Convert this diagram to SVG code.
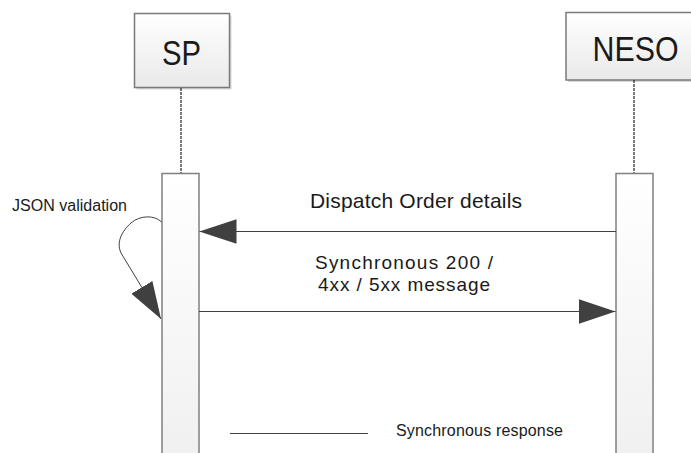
<svg xmlns="http://www.w3.org/2000/svg" width="691" height="453" viewBox="0 0 691 453">
  <defs>
    <linearGradient id="boxGrad" x1="0" y1="0" x2="0" y2="1">
      <stop offset="0" stop-color="#ffffff"/>
      <stop offset="1" stop-color="#e9e9e9"/>
    </linearGradient>
    <linearGradient id="actGrad" x1="0" y1="0" x2="0" y2="1">
      <stop offset="0" stop-color="#ffffff"/>
      <stop offset="1" stop-color="#f0f0f0"/>
    </linearGradient>
    <marker id="arrow" markerUnits="userSpaceOnUse" markerWidth="37" markerHeight="25" viewBox="0 0 36 24" refX="36" refY="12" orient="auto">
      <path d="M0,0 L36,12 L0,24 Z" fill="#404040"/>
    </marker>
  </defs>
  <style>
    .head { fill: url(#boxGrad); stroke: #7a7a7a; stroke-width: 1.5; }
    .shadow { fill: #d8d8d8; stroke: none; }
    .act { fill: url(#actGrad); stroke: #808080; stroke-width: 1.5; }
    .life { stroke: #222222; stroke-width: 1.2; stroke-dasharray: 3 1; fill: none; }
    .msg { stroke: #404040; stroke-width: 1; fill: none; marker-end: url(#arrow); }
    .t { font-family: "Liberation Sans", Arial, sans-serif; fill: #1a1a1a; }
    .big { font-size: 35px; text-anchor: middle; }
    .lbl { font-size: 21px; }
    .lbl2 { font-size: 19px; }
    .small { font-size: 16px; }
  </style>

  <rect width="691" height="453" fill="#ffffff"/>

  <g id="sp">
    <rect class="shadow" x="136.5" y="15.5" width="95" height="74"/>
    <rect class="head" x="134.5" y="13.5" width="95" height="74"/>
    <text class="t big" x="181.5" y="65" textLength="39" lengthAdjust="spacingAndGlyphs">SP</text>
    <line class="life" x1="181" y1="88" x2="181" y2="173"/>
    <rect class="act" x="162" y="173.5" width="37" height="290"/>
  </g>

  <g id="neso">
    <rect class="shadow" x="568" y="14.5" width="130" height="67.5"/>
    <rect class="head" x="566" y="12.5" width="130" height="67.5"/>
    <text class="t big" x="635.5" y="61" textLength="86" lengthAdjust="spacingAndGlyphs">NESO</text>
    <line class="life" x1="634" y1="80" x2="634" y2="173"/>
    <rect class="act" x="616" y="173.5" width="37" height="290"/>
  </g>

  <g id="connectors">
    <path class="msg" d="M616,231.5 L199.5,231.5"/>
    <path class="msg" d="M199,311.5 L615.5,311.5"/>
    <path class="msg" d="M161.5,222 C155,215 140,215 131,223 C122,231 116,242 121,253 L161,319"/>
  </g>

  <g id="labels">
    <text class="t lbl" x="310" y="208" textLength="212">Dispatch Order details</text>
    <text class="t lbl2" x="315" y="269" textLength="178">Synchronous 200 /</text>
    <text class="t lbl2" x="318" y="291" textLength="172">4xx / 5xx message</text>
    <text class="t small" x="12" y="211" textLength="115">JSON validation</text>
  </g>

  <g id="legend">
    <line x1="230" y1="433.5" x2="368" y2="433.5" stroke="#404040" stroke-width="1"/>
    <text class="t small" x="396" y="436" textLength="167">Synchronous response</text>
  </g>
</svg>
